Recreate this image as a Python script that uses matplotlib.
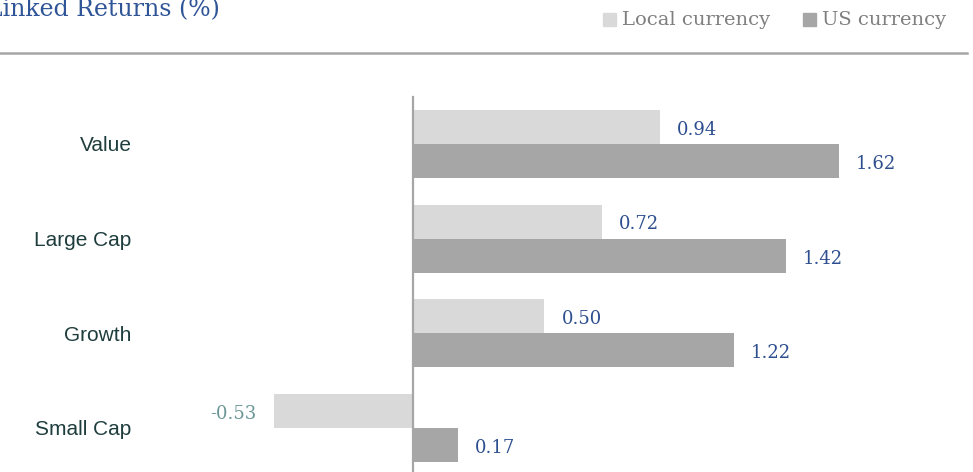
import numpy as np
import matplotlib.pyplot as plt
from matplotlib.patches import Rectangle
from matplotlib.lines import Line2D

categories = ["Value", "Large Cap", "Growth", "Small Cap"]
local_ret = [0.94, 0.72, 0.50, -0.53]
us_ret = [1.62, 1.42, 1.22, 0.17]

W, H = 973, 472
fig = plt.figure(figsize=(W / 100, H / 100), dpi=100)

# axes: x from 140px to right edge, y from 60px to bottom
ax = fig.add_axes([140 / W, 0, 1 - 140 / W, (H - 60) / H])
y = np.arange(len(categories))
bh = 0.36
ax.barh(y - bh / 2, local_ret, height=bh, color="#d9d9d9")
ax.barh(y + bh / 2, us_ret, height=bh, color="#a6a6a6")
ax.set_xlim((140 - 413) / 262.8, (973 - 413) / 262.8)
ax.set_ylim(3.465, -0.887)
ax.axvline(0, ymin=0, ymax=(H - 97) / (H - 60), color="#a6a6a6", lw=1.6)

ax.set_yticks(y)
ax.set_yticklabels(categories, fontsize=15, color="#1f3d3d",
                   family="Liberation Sans")
ax.tick_params(axis="y", length=0, pad=6)
ax.set_xticks([])
for s in ax.spines.values():
    s.set_visible(False)

blue = "#2e4f8f"
teal = "#6b9696"
off = 17 / 262.8
for i in range(len(categories)):
    for v, yy in [(local_ret[i], y[i] - bh / 2), (us_ret[i], y[i] + bh / 2)]:
        if v >= 0:
            ax.text(v + off, yy + 0.03, f"{v:.2f}", ha="left", va="center",
                    fontsize=13, color=blue, family="DejaVu Serif")
        else:
            ax.text(v - off, yy + 0.03, f"{v:.2f}", ha="right", va="center",
                    fontsize=13, color=teal, family="DejaVu Serif")

# title (cut at the left edge)
fig.text(220 / W, 1 - 10 / H, "Linked Returns (%)", ha="right", va="center",
         fontsize=17, color="#2f5597", family="DejaVu Serif")

# separator line
fig.add_artist(Line2D([0, 967 / W], [1 - 53 / H, 1 - 53 / H],
                      color="#a6a6a6", lw=1.8))

# legend
for x0, col, lab in [(603, "#d9d9d9", "Local currency"),
                     (803, "#a6a6a6", "US currency")]:
    fig.add_artist(Rectangle((x0 / W, 1 - 26 / H), 13 / W, 13 / H,
                             color=col, transform=fig.transFigure))
    fig.text((x0 + 19) / W, 1 - 20 / H, lab, ha="left", va="center",
             fontsize=14, color="#7f7f7f", family="DejaVu Serif")

fig.savefig("out.png", dpi=100)
